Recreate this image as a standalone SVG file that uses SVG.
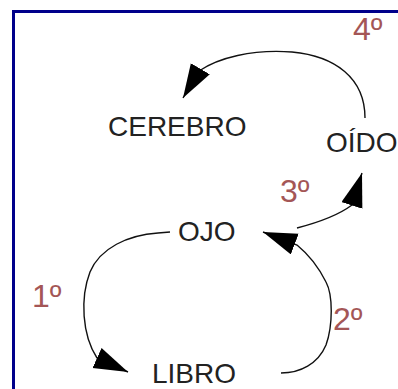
<svg xmlns="http://www.w3.org/2000/svg" width="398" height="389" viewBox="0 0 398 389">
<defs>
<style>
.node{font-family:"Liberation Sans",Arial,sans-serif;font-size:28px;fill:#222}
.lbl{font-family:"Liberation Sans",Arial,sans-serif;font-size:32px;fill:#a45656}
.edge{fill:none;stroke:#111;stroke-width:1.4;marker-end:url(#ah)}
</style>
<marker id="ah" markerUnits="userSpaceOnUse" markerWidth="36" markerHeight="24" refX="34" refY="11" orient="auto">
<path d="M0,0 L34,11 L0,22 z" fill="#000"/>
</marker>
</defs>
<rect x="0" y="0" width="398" height="389" fill="#fff"/>
<g id="frame" fill="none" stroke="#00008b" stroke-width="3">
<path d="M13.5,389 V11.5 H398"/>
</g>
<g id="connectors">
<path class="edge" d="M365,118 C365,78 335,56 292,52 C252,49 218,58 199,71 L183,98"/>
<path class="edge" d="M297,228 C320,222 340,214 352,205 L362,173"/>
<path class="edge" d="M281,373 C300,373 318,364 326,345 C333,325 333,295 326,282 C318,266 308,254 297,245 L263,232"/>
<path class="edge" d="M170,232 L158,233 C128,235 100,248 90,272 C80,298 82,335 97,358 L128,372"/>
</g>
<g id="cerebro"><text class="node" x="108" y="136">CEREBRO</text></g>
<g id="oido"><text class="node" x="326" y="152">OÍDO</text></g>
<g id="ojo"><text class="node" x="178" y="241">OJO</text></g>
<g id="libro"><text class="node" x="152" y="383">LIBRO</text></g>
<g id="labels">
<text class="lbl" x="353" y="40">4º</text>
<text class="lbl" x="280" y="202">3º</text>
<text class="lbl" x="32" y="307">1º</text>
<text class="lbl" x="333" y="330">2º</text>
</g>
</svg>
